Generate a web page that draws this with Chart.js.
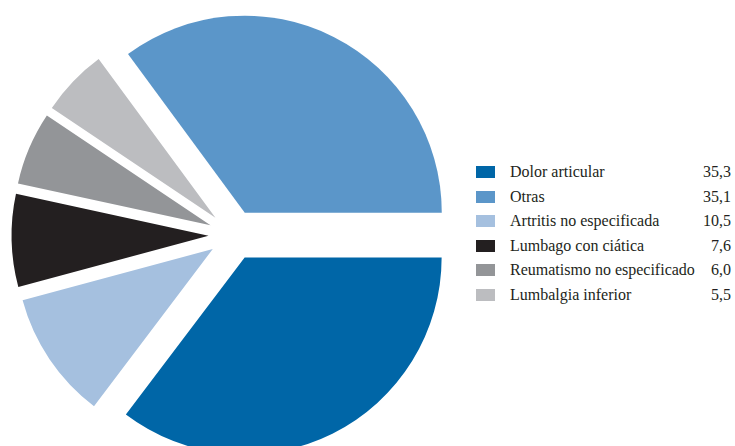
<!DOCTYPE html>
<html lang="es">
<head>
<meta charset="utf-8">
<script src="https://cdn.jsdelivr.net/npm/chart.js@4.4.1/dist/chart.umd.min.js"></script>
<style>
  body { margin: 0; background: #fff; }
  #wrap { position: relative; width: 735px; height: 446px; overflow: hidden; }
  #pieChart { position: absolute; left: 0; top: 0; }
  #legend {
    position: absolute; left: 476px; top: 166px; width: 255px;
    font-family: "Liberation Serif", "Times New Roman", serif;
    font-size: 16px; color: #231f20;
  }
  .row { position: absolute; left: 0; width: 100%; height: 12px; display: flex; align-items: center; }
  .sw { width: 19px; height: 12px; flex: none; }
  .lbl { margin-left: 15px; white-space: nowrap; flex: 1; }
  .val { white-space: nowrap; }
</style>
</head>
<body>
<div id="wrap">
  <canvas id="pieChart" width="467" height="470"></canvas>
  <div id="legend"></div>
</div>
<script>
// legend order
const labels = ['Dolor articular', 'Otras', 'Artritis no especificada', 'Lumbago con ciática', 'Reumatismo no especificado', 'Lumbalgia inferior'];
const values = [35.3, 35.1, 10.5, 7.6, 6.0, 5.5];
const colors = ['#0066a7', '#5b96c9', '#a5c0df', '#231f20', '#939598', '#bcbdc0'];
// order of the slices clockwise from 3 o'clock
const sliceOrder = [0, 2, 3, 4, 5, 1];

const explode = 25; // px each slice is pulled out from the centre

// arc that is shifted outwards along its mid angle without growing its radius
class ExplodedArc extends Chart.ArcElement {
  draw(ctx) {
    const mid = (this.startAngle + this.endAngle) / 2;
    ctx.save();
    ctx.translate(Math.cos(mid) * explode, Math.sin(mid) * explode);
    super.draw(ctx);
    ctx.restore();
  }
}
ExplodedArc.id = 'explodedArc';

class ExplodedPie extends Chart.PieController {}
ExplodedPie.id = 'explodedPie';
ExplodedPie.defaults = { dataElementType: 'explodedArc' };

Chart.register(ExplodedArc, ExplodedPie);

const ctx = document.getElementById('pieChart').getContext('2d');
new Chart(ctx, {
  type: 'explodedPie',
  data: {
    labels: sliceOrder.map(i => labels[i]),
    datasets: [{
      data: sliceOrder.map(i => values[i]),
      backgroundColor: sliceOrder.map(i => colors[i]),
      borderWidth: 0,
      clip: false
    }]
  },
  options: {
    responsive: false,
    animation: false,
    rotation: 90,
    radius: 197,
    layout: { padding: 0 },
    plugins: {
      legend: { display: false },
      tooltip: { enabled: false }
    }
  }
});

const legend = document.getElementById('legend');
labels.forEach((name, i) => {
  const row = document.createElement('div');
  row.className = 'row';
  row.style.top = (i * 24.6) + 'px';
  row.innerHTML = `<span class="sw" style="background:${colors[i]}"></span>` +
    `<span class="lbl">${name}</span>` +
    `<span class="val">${values[i].toFixed(1).replace('.', ',')}</span>`;
  legend.appendChild(row);
});
</script>
</body>
</html>
